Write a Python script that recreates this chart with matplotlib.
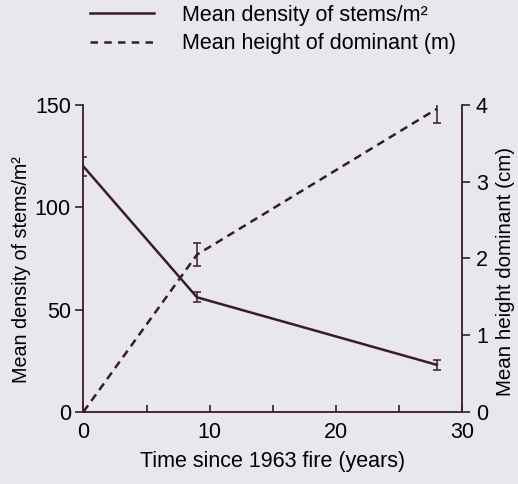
import numpy as np
import matplotlib.pyplot as plt
from matplotlib.lines import Line2D

plt.rcParams['font.family'] = ['Liberation Sans', 'DejaVu Sans']

INK = '#3b1c22'
BG = '#e8e7ee'
FS = 15.5

# data
years = [0, 9, 28]
density = [120, 56, 23]
density_err = [4.5, 2.5, 2.5]
height = [0.0, 2.05, 3.95]
height_err = [0.0, 0.15, 0.18]

fig = plt.figure(figsize=(5.18, 4.84), dpi=100, facecolor=BG)
ax = fig.add_axes([0.161, 0.149, 0.731, 0.634])
ax.set_facecolor(BG)
ax2 = ax.twinx()

ax.errorbar(years, density, yerr=density_err, color=INK, lw=1.8,
            elinewidth=1.1, capsize=3, capthick=1.1)
ax2.errorbar(years, height, yerr=height_err, color=INK, lw=1.8,
             ls=(0, (3.2, 2.2)), elinewidth=1.1, capsize=3, capthick=1.1)

ax.set_xlim(0, 30)
ax.set_ylim(0, 150)
ax2.set_ylim(0, 4)

for a in (ax, ax2):
    a.spines['top'].set_visible(False)
    for s in a.spines.values():
        s.set_color(INK)
        s.set_linewidth(1.3)
ax.spines['right'].set_visible(False)
ax2.spines['left'].set_visible(False)
ax2.spines['bottom'].set_visible(False)

ax.set_xticks([0, 10, 20, 30])
ax.set_xticks([5, 15, 25], minor=True)
ax.set_yticks([0, 50, 100, 150])
ax2.set_yticks([0, 1, 2, 3, 4])

ax.tick_params(axis='x', which='both', direction='in', length=5, width=1.2,
               color=INK, labelsize=FS, pad=7)
ax.tick_params(axis='y', direction='out', length=6, width=1.2, color=INK,
               labelsize=FS, pad=3)
ax2.tick_params(axis='y', direction='out', length=6, width=1.2, color=INK,
                labelsize=FS, pad=4)

ax.set_xlabel('Time since 1963 fire (years)', fontsize=FS, labelpad=6)
ax.set_ylabel('Mean density of stems/m²', fontsize=14.2, labelpad=3, y=0.463)
ax2.set_ylabel('Mean height dominant (cm)', fontsize=14.8, labelpad=6, y=0.456)

handles = [Line2D([], [], color=INK, lw=1.8),
           Line2D([], [], color=INK, lw=1.8, ls=(0, (3, 2.5)))]
fig.legend(handles, ['Mean density of stems/m²', 'Mean height of dominant (m)'],
           loc='upper left', bbox_to_anchor=(0.136, 1.03), frameon=False,
           fontsize=FS, handlelength=3.0, handletextpad=1.3, labelspacing=0.35)

fig.savefig('out.png', dpi=100, facecolor=BG)
